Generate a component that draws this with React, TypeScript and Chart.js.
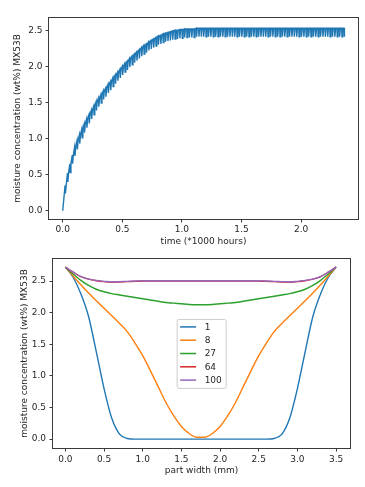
import React, { useEffect, useRef } from "react";
import { Chart, registerables } from "chart.js";

Chart.register(...registerables);

// ---------- data: top chart (moisture uptake history) ----------
const CYCLE_LENGTH = 0.02; // *1000 hours per humidity cycle
const DIP_LENGTH = 0.003;
const RECOVERY_LENGTH = 0.009;
const cyclePeaks = [
  0.35, 0.52, 0.65, 0.77, 0.88, 0.97, 1.05, 1.13, 1.2, 1.27,
  1.33, 1.39, 1.45, 1.51, 1.56, 1.61, 1.66, 1.7, 1.75, 1.79,
  1.84, 1.88, 1.92, 1.96, 2.0, 2.04, 2.07, 2.11, 2.14, 2.17,
  2.2, 2.23, 2.26, 2.29, 2.31, 2.34, 2.36, 2.38, 2.4, 2.42,
  2.43, 2.45, 2.46, 2.47, 2.48, 2.49, 2.5, 2.5, 2.51, 2.51,
  2.52, 2.52, 2.52, 2.52, 2.52, 2.53, 2.53, 2.53, 2.53, 2.53,
  2.53, 2.53, 2.53, 2.53, 2.53, 2.53, 2.53, 2.53, 2.53, 2.53,
  2.53, 2.53, 2.53, 2.53, 2.53, 2.53, 2.53, 2.53, 2.53, 2.53,
  2.53, 2.53, 2.53, 2.53, 2.53, 2.53, 2.53, 2.53, 2.53, 2.53,
  2.53, 2.53, 2.53, 2.53, 2.53, 2.53, 2.53, 2.53, 2.53, 2.53,
  2.53, 2.53, 2.53, 2.53, 2.53, 2.53, 2.53, 2.53, 2.53, 2.53,
  2.53, 2.53, 2.53, 2.53, 2.53, 2.53, 2.53, 2.53,
];
const cycleTroughs = [
  0.24, 0.4, 0.53, 0.65, 0.76, 0.85, 0.93, 1.01, 1.08, 1.15,
  1.21, 1.27, 1.33, 1.39, 1.44, 1.49, 1.54, 1.58, 1.63, 1.67,
  1.72, 1.76, 1.8, 1.84, 1.88, 1.92, 1.95, 1.99, 2.02, 2.05,
  2.08, 2.11, 2.14, 2.17, 2.19, 2.22, 2.24, 2.26, 2.28, 2.3,
  2.31, 2.33, 2.34, 2.35, 2.36, 2.37, 2.38, 2.38, 2.39, 2.39,
  2.4, 2.4, 2.4, 2.4, 2.4, 2.41, 2.41, 2.41, 2.41, 2.41,
  2.41, 2.41, 2.41, 2.41, 2.41, 2.41, 2.41, 2.41, 2.41, 2.41,
  2.41, 2.41, 2.41, 2.41, 2.41, 2.41, 2.41, 2.41, 2.41, 2.41,
  2.41, 2.41, 2.41, 2.41, 2.41, 2.41, 2.41, 2.41, 2.41, 2.41,
  2.41, 2.41, 2.41, 2.41, 2.41, 2.41, 2.41, 2.41, 2.41, 2.41,
  2.41, 2.41, 2.41, 2.41, 2.41, 2.41, 2.41, 2.41, 2.41, 2.41,
  2.41, 2.41, 2.41, 2.41, 2.41, 2.41, 2.41, 2.41,
];
const timeTicks = [0, 0.5, 1.0, 1.5, 2.0];
const topYTicks = [0, 0.5, 1.0, 1.5, 2.0, 2.5];

// ---------- data: bottom chart (through-thickness profiles) ----------
const widthMm = [
  0.0, 0.1, 0.2, 0.3, 0.4, 0.5, 0.6, 0.7, 0.8, 0.9, 1.0, 1.1, 1.2, 1.3, 1.4, 1.5, 1.6, 1.7,
  1.8, 1.9, 2.0, 2.1, 2.2, 2.3, 2.4, 2.5, 2.6, 2.7, 2.8, 2.9, 3.0, 3.1, 3.2, 3.3, 3.4, 3.5,
];
const profile1 = [
  2.72, 2.56, 2.3, 1.94, 1.38, 0.8, 0.33, 0.08, 0.01, 0.0, 0.0, 0.0, 0.0, 0.0, 0.0, 0.0, 0.0, 0.0,
  0.0, 0.0, 0.0, 0.0, 0.0, 0.0, 0.0, 0.0, 0.0, 0.01, 0.08, 0.33, 0.8, 1.38, 1.94, 2.3, 2.56, 2.72,
];
const profile8 = [
  2.72, 2.58, 2.44, 2.31, 2.19, 2.07, 1.95, 1.83, 1.7, 1.52, 1.32, 1.08, 0.83, 0.58, 0.37, 0.2, 0.09, 0.03,
  0.03, 0.09, 0.2, 0.37, 0.58, 0.83, 1.08, 1.32, 1.52, 1.7, 1.83, 1.95, 2.07, 2.19, 2.31, 2.44, 2.58, 2.72,
];
const profile27 = [
  2.72, 2.61, 2.51, 2.43, 2.37, 2.33, 2.3, 2.28, 2.26, 2.24, 2.22, 2.2, 2.18, 2.16, 2.15, 2.14, 2.13, 2.125,
  2.125, 2.13, 2.14, 2.15, 2.16, 2.18, 2.2, 2.22, 2.24, 2.26, 2.28, 2.3, 2.33, 2.37, 2.43, 2.51, 2.61, 2.72,
];
const profile64 = [
  2.72, 2.64, 2.57, 2.53, 2.505, 2.49, 2.48, 2.485, 2.49, 2.495, 2.5, 2.5, 2.5, 2.5, 2.5, 2.5, 2.5, 2.5,
  2.5, 2.5, 2.5, 2.5, 2.5, 2.5, 2.5, 2.5, 2.495, 2.49, 2.485, 2.48, 2.49, 2.505, 2.53, 2.57, 2.64, 2.72,
];
const profile100 = [
  2.72, 2.64, 2.57, 2.53, 2.51, 2.495, 2.485, 2.49, 2.495, 2.5, 2.505, 2.505, 2.505, 2.505, 2.505, 2.505, 2.505, 2.505,
  2.505, 2.505, 2.505, 2.505, 2.505, 2.505, 2.505, 2.505, 2.5, 2.495, 2.49, 2.485, 2.495, 2.51, 2.53, 2.57, 2.64, 2.72,
];
const profileLabels = ["1", "8", "27", "64", "100"];
const profileColors = ["#1f77b4", "#ff7f0e", "#2ca02c", "#d62728", "#9467bd"];
const widthTicks = [0, 0.5, 1.0, 1.5, 2.0, 2.5, 3.0, 3.5];
const bottomYTicks = [0, 0.5, 1.0, 1.5, 2.0, 2.5];

// ---------- styling helpers ----------
const FONT = "'DejaVu Sans', sans-serif";
const TEXT = "#262626";

const frame = {
  id: "frame",
  afterDatasetsDraw(chart: any) {
    const { ctx, chartArea } = chart;
    const l = Math.round(chartArea.left) - 0.5;
    const t = Math.round(chartArea.top) - 0.5;
    const r = Math.round(chartArea.right) + 0.5;
    const b = Math.round(chartArea.bottom) + 0.5;
    ctx.save();
    ctx.strokeStyle = "#3a3a3a";
    ctx.lineWidth = 1;
    ctx.strokeRect(l, t, r - l, b - t);
    ctx.restore();
  },
};

const boxLegend = {
  id: "boxLegend",
  afterDraw(chart: any, _args: any, opts: any) {
    if (!opts || !opts.items) return;
    const { ctx, chartArea } = chart;
    const w = chartArea.right - chartArea.left;
    const h = chartArea.bottom - chartArea.top;
    const x = chartArea.left + opts.fx * w;
    const y = chartArea.top + opts.fy * h;
    const bw = opts.width;
    const bh = opts.height;
    ctx.save();
    ctx.beginPath();
    const r = 2;
    ctx.moveTo(x + r, y);
    ctx.lineTo(x + bw - r, y);
    ctx.quadraticCurveTo(x + bw, y, x + bw, y + r);
    ctx.lineTo(x + bw, y + bh - r);
    ctx.quadraticCurveTo(x + bw, y + bh, x + bw - r, y + bh);
    ctx.lineTo(x + r, y + bh);
    ctx.quadraticCurveTo(x, y + bh, x, y + bh - r);
    ctx.lineTo(x, y + r);
    ctx.quadraticCurveTo(x, y, x + r, y);
    ctx.closePath();
    ctx.fillStyle = "rgba(255,255,255,0.8)";
    ctx.fill();
    ctx.strokeStyle = "#cccccc";
    ctx.lineWidth = 1;
    ctx.stroke();
    ctx.font = `9px ${FONT}`;
    ctx.textBaseline = "middle";
    ctx.textAlign = "left";
    opts.items.forEach((it: any, i: number) => {
      const cy = y + opts.firstRow + i * opts.rowGap;
      ctx.strokeStyle = it.color;
      ctx.lineWidth = 1.5;
      ctx.beginPath();
      ctx.moveTo(x + 3, cy);
      ctx.lineTo(x + 19, cy);
      ctx.stroke();
      ctx.fillStyle = TEXT;
      ctx.fillText(it.label, x + 27.5, cy + 0.5);
    });
    ctx.restore();
  },
};

function makeScale(
  min: number,
  max: number,
  ticks: number[],
  title: string,
  titlePadding: any,
  size: number,
  horizontal: boolean,
  tickPad: number
) {
  return {
    type: "linear",
    min,
    max,
    afterBuildTicks(scale: any) {
      scale.ticks = ticks.map((v) => ({ value: v }));
    },
    afterFit(scale: any) {
      if (horizontal) scale.height = size;
      else scale.width = size;
    },
    border: { display: false },
    grid: {
      display: true,
      drawOnChartArea: false,
      drawTicks: true,
      tickLength: 3.5,
      color: "#3a3a3a",
      lineWidth: 1,
    },
    ticks: {
      color: TEXT,
      font: { family: FONT, size: 9 },
      padding: tickPad,
      autoSkip: false,
      maxRotation: 0,
      callback: (v: any) => Number(v).toFixed(1),
    },
    title: {
      display: true,
      text: title,
      color: TEXT,
      font: { family: FONT, size: 9 },
      padding: titlePadding,
    },
  };
}

function TopChart() {
  const ref = useRef<HTMLCanvasElement>(null);
  useEffect(() => {
    const points: { x: number; y: number }[] = [{ x: 0, y: 0 }];
    cyclePeaks.forEach((p, i) => {
      const t = (i + 1) * CYCLE_LENGTH;
      points.push({ x: t, y: p });
      points.push({ x: t + DIP_LENGTH, y: cycleTroughs[i] });
      if (i < cyclePeaks.length - 1) points.push({ x: t + RECOVERY_LENGTH, y: p });
    });
    const chart = new Chart(ref.current as HTMLCanvasElement, {
      type: "line",
      data: {
        datasets: [
          {
            data: points,
            borderColor: "#1f77b4",
            borderWidth: 1.4,
            pointRadius: 0,
            tension: 0,
            fill: false,
          },
        ],
      },
      options: {
        responsive: false,
        animation: false,
        layout: { padding: { left: 0, right: 7, top: 18, bottom: 0 } },
        plugins: { legend: { display: false }, tooltip: { enabled: false } },
        scales: {
          x: makeScale(-0.115, 2.477, timeTicks, "time (*1000 hours)", { top: 0, bottom: 3 }, 31, true, 2),
          y: makeScale(-0.115, 2.67, topYTicks, "moisture concentration (wt%) MX53B", { top: 12.6, bottom: 0 }, 49, false, 3),
        },
      } as any,
      plugins: [frame],
    });
    return () => chart.destroy();
  }, []);
  return <canvas ref={ref} width={365} height={250} style={{ display: "block" }} />;
}

function BottomChart() {
  const ref = useRef<HTMLCanvasElement>(null);
  useEffect(() => {
    const series = [profile1, profile8, profile27, profile64, profile100];
    const chart = new Chart(ref.current as HTMLCanvasElement, {
      type: "line",
      data: {
        datasets: series.map((s, i) => ({
          label: profileLabels[i],
          data: s.map((v, j) => ({ x: widthMm[j], y: v })),
          borderColor: profileColors[i],
          borderWidth: 1.4,
          pointRadius: 0,
          cubicInterpolationMode: "monotone",
          fill: false,
          order: series.length - 1 - i,
        })),
      },
      options: {
        responsive: false,
        animation: false,
        layout: { padding: { left: 0, right: 15, top: 6, bottom: 0 } },
        plugins: {
          legend: { display: false },
          tooltip: { enabled: false },
          boxLegend: {
            items: profileLabels.map((l, i) => ({ label: l, color: profileColors[i] })),
            fx: 0.418,
            fy: 0.32,
            width: 49,
            height: 69,
            firstRow: 7.5,
            rowGap: 13.3,
          },
        },
        scales: {
          x: makeScale(-0.16, 3.68, widthTicks, "part width (mm)", { top: 0, bottom: 10.6 }, 39, true, 2.5),
          y: makeScale(-0.14, 2.85, bottomYTicks, "moisture concentration (wt%) MX53B", { top: 19.6, bottom: 0 }, 53, false, 3.5),
        },
      } as any,
      plugins: [frame, boxLegend],
    });
    return () => chart.destroy();
  }, []);
  return <canvas ref={ref} width={365} height={237} style={{ display: "block" }} />;
}

export default function App() {
  return (
    <div
      style={{
        position: "absolute",
        left: 0,
        top: 0,
        width: 365,
        height: 487,
        background: "#ffffff",
        overflow: "hidden",
      }}
    >
      <TopChart />
      <BottomChart />
    </div>
  );
}
